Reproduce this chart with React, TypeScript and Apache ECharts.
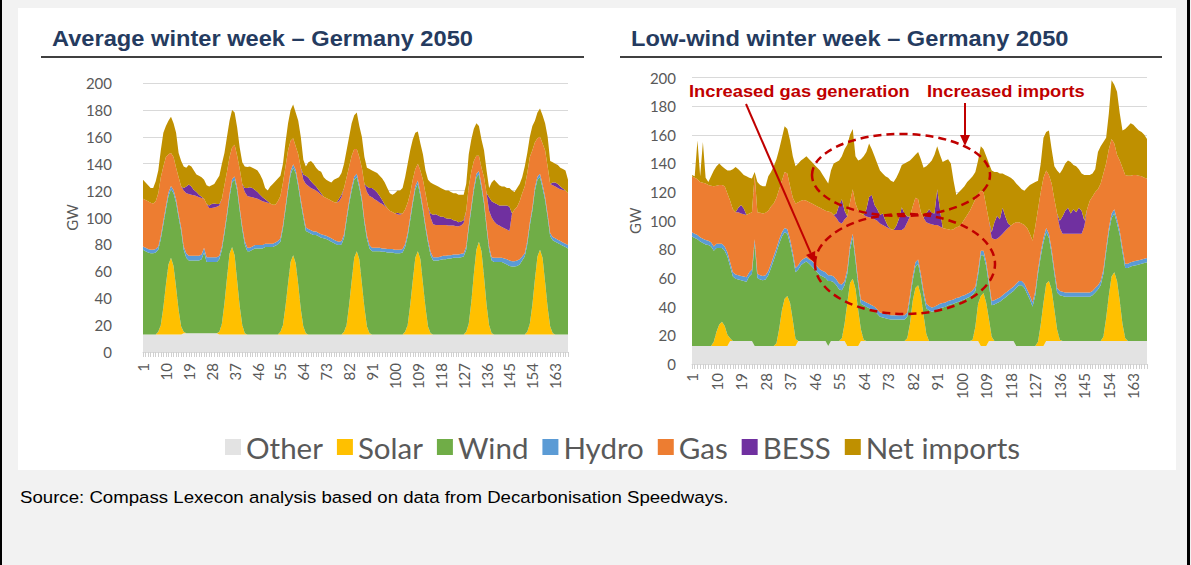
import React, { useEffect, useRef } from "react";
import * as echarts from "echarts";

// ---------- categories (hours of the week) ----------
const hours: string[] = Array.from({ length: 168 }, (_, i) => String(i + 1));
const seriesNames = ["Other", "Solar", "Wind", "Hydro", "Gas", "BESS", "Net imports"];
const seriesColors = ["#E3E3E3", "#FFC000", "#70AD47", "#5B9BD5", "#ED7D31", "#7030A0", "#BF9000"];
const yTicks = { min: 0, max: 200, interval: 20 };

// ---------- Average winter week (left) ----------
const avgOther = [
  13,13,13,13,13,13,13,13,13,13,13,13,13,13,13,13,14,14,14,14,14,14,14,14,
  14,14,14,14,14,14,13,13,13,13,13,13,13,13,13,13,13,13,13,13,13,13,13,13,
  13,13,13,13,13,13,13,13,13,13,13,13,13,13,13,13,13,13,13,13,13,13,13,13,
  13,13,13,13,13,13,13,13,13,13,13,13,13,13,13,13,13,13,13,13,13,13,13,13,
  13,13,13,13,13,13,13,13,13,13,13,13,13,13,13,13,13,13,13,13,13,13,13,13,
  13,13,13,13,13,13,13,13,13,13,13,13,13,13,13,13,13,13,13,13,13,13,13,13,
  13,13,13,13,13,13,13,13,13,13,13,13,13,13,13,13,13,13,13,13,13,13,13,13,
];
const avgSolar = [
  0,0,0,0,0,0,2,7,20,37,52,57,51,35,18,6,1,0,0,0,0,0,0,0,
  0,0,0,0,0,0,2,8,23,42,60,65,59,40,21,7,1,0,0,0,0,0,0,0,
  0,0,0,0,0,0,2,7,21,38,54,59,53,37,19,6,1,0,0,0,0,0,0,0,
  0,0,0,0,0,0,0,2,7,22,40,57,62,56,38,20,6,1,0,0,0,0,0,0,
  0,0,0,0,0,0,0,2,7,22,40,57,62,56,38,20,6,1,0,0,0,0,0,0,
  0,0,0,0,0,0,0,2,8,24,45,63,69,62,43,22,7,1,0,0,0,0,0,0,
  0,0,0,0,0,0,0,2,8,22,41,58,63,57,39,20,6,1,0,0,0,0,0,0,
];
const avgWind = [
  63,62,61,60.5,60.5,61,61,64,62,56,51,51,54,63,69,71,61,56,54,54,54,54,54,55,
  60,53,53,53,53,53,54,55,52,46,42,48,56,67,71,71,66,62,62,63,64,64,64,64,
  65,65,65,65,66,67,67,72,72,69,65,65,67,73,79,81,76,76,75,74,74,73,72,71.5,
  71,70,69,68,67,66.5,67,70,78,75,67,58,55,53,61,63,65,63,62,62,62,62,61.5,61.5,
  61,61,61,60.5,60.5,60.5,61,63,66,63,57,51,50,47,54,59,62,58,55,55,55,55.5,56,56,
  56.5,56.5,57,57,57,57.5,58,61,71,69,62,54,50,47,54,57,56,54,54,54,54,54,53,52,
  51,50.5,50.5,51,52,55,58,65,73,70,66,57,54,52,61,67,67,69,69,68,67,66,65,64,
];
const avgHydro = [
  2.5,2.5,2.5,2.5,2.5,2.5,2.5,2.5,2.5,2.5,2.5,2.5,2.5,2.5,2.5,2.5,2.5,3.5,3.5,3.5,3.5,3.5,3.5,3.5,
  3.5,3.5,3.5,3.5,3.5,3.5,2.5,2.5,2.5,2.5,2.5,2.5,2.5,2.5,2.5,2.5,2.5,2.5,2.5,2.5,2.5,2.5,2.5,2.5,
  2.5,2.5,2.5,2.5,2.5,2.5,2.5,2.5,2.5,2.5,2.5,2.5,2.5,2.5,2.5,2.5,2.5,2.5,2.5,2.5,2.5,2.5,2.5,2.5,
  2.5,2.5,2.5,2.5,2.5,2.5,2.5,2.5,2.5,2.5,2.5,2.5,2.5,2.5,2.5,2.5,2.5,2.5,2.5,2.5,2.5,2.5,2.5,2.5,
  2.5,2.5,2.5,2.5,2.5,2.5,2.5,2.5,2.5,2.5,2.5,2.5,2.5,2.5,2.5,2.5,2.5,2.5,2.5,2.5,2.5,2.5,2.5,2.5,
  2.5,2.5,2.5,2.5,2.5,2.5,2.5,2.5,2.5,2.5,2.5,2.5,2.5,2.5,2.5,2.5,2.5,2.5,3,3,3,3,3.5,4,
  4,4,4,4,4,3,2.5,2.5,2.5,2.5,2.5,2.5,2.5,2.5,2.5,2.5,2.5,2.5,2.5,2.5,2.5,2.5,2.5,2.5,
];
const avgGas = [
  35.5,35.5,35.5,35,34.5,35.5,39.5,43.5,40.5,36.5,28.5,24.5,24.5,23.5,27.5,30.5,41.5,44.5,46,45.5,45,44.5,43.5,42,
  36.5,39.5,36.5,36.5,37,37.5,37.5,35.5,33.5,30.5,27.5,23.5,23.5,23.5,28.5,31.5,36.5,38.5,38,36.5,35,34.5,33.5,32.5,
  31,30.5,30,29,28,29.5,31.5,31.5,29.5,27.5,22.5,19.5,17.5,21.5,23.5,25.5,32.5,32,31.5,31.5,30.5,30,29.5,28.5,
  28,28,28,28,28.5,30,32.5,34.5,29.5,25.5,23.5,20.5,18.5,20.5,22.5,26.5,32.5,36.5,37.5,36,35,33.5,33,31.5,
  30.5,28.5,27.5,27,26.5,26,26.5,25.5,22.5,17.5,15.5,12.5,12.5,16.5,20.5,23.5,24.5,25.5,24.5,24,24,23.5,23,23,
  22,22,21.5,21,21,21,22.5,26.5,28.5,25.5,19.5,13.5,11.5,12.5,17.5,23.5,26.5,29.5,27,25,24,23,22.5,22,
  22,35.5,38.5,40,43,47,49.5,50.5,48.5,42.5,33.5,28.5,27.5,30.5,34.5,35.5,36.5,38.5,38.5,38.5,38.5,39,39.5,38.5,
];
const avgBess = [
  0,0,0,0,0,0,0,0,0,0,0,0,0,0,0,0,2,5,7,6,4,3,2,1,
  0,0,2,3,3,2,1,0,0,0,0,0,0,0,0,0,3,6,7,7,6,5,4,3,
  2,1,0,0,0,0,0,0,0,0,0,0,0,0,0,4,6,6,5,4,3,2,1,0,
  0,0,0,0,0,2,2,0,0,0,0,0,0,0,0,0,4,6,7,7,6,5,3,1,
  0,0,0,0,1,1,0,0,0,0,0,0,0,0,0,0,0,3,7,8,7,6,6,5,
  5,5,4,4,3,3,2,0,0,0,0,0,0,0,0,0,10,12,14,15,15,16,17,18,
  18,0,0,0,0,0,0,0,0,0,0,0,0,0,0,0,0,2,3,3,2,1,0,0,
];
const avgNet = [
  14,13,12,11,11.5,15,17,20,25,23,25,27,25,26,18,19,16,14,14.5,15,14.5,13,14,14.5,
  14,14,14,14,14.5,18,21,26,24,26,27,28,24,21,16,16,16,15.5,15.5,15,15.5,16,15,13,
  8.5,8,12.5,15.5,17.5,17,15,14,18,20,23,25,25,25,23,11,7,11.5,15,15,14,14.5,16,14.5,
  13.5,13.5,13.5,16.5,18,16,16,18,20,22,24,25,27,23,23,20,14,14,13,13.5,14.5,15,16,16.5,
  15,13,13,15,16.5,17,19,24,29,32,30,27,24,20,19,17,20,23,23,21.5,21.5,21.5,20.5,20.5,
  21,20,20,20.5,20.5,20,19,20,24,24,24,24,22,21,20,17,7,14,17,16,15,14,14,13,
  14,17,13,14,13,12,15,15,15,18,16,19,21,21,20,22,17,15,14,14,14,14.5,15,10,
];

// ---------- Low-wind winter week (right) ----------
const lowOther = [
  12.5,12.5,12.5,12.5,12.5,12.5,12.5,12.5,12.5,12.5,12.5,12.5,12.5,12.5,16,16,16,16,16,16,16,16,16,12.5,
  12.5,12.5,12.5,12.5,12.5,12.5,12.5,12.5,12.5,12.5,12.5,12.5,12.5,12.5,12.5,16,16,16,16,16,16,16,16,16,
  16,16,12.5,16,16,16,16,16,16,12.5,12.5,12.5,12.5,12.5,16,16,16,16,16,16,16,16,16,16,
  16,16,16,16,16,16,16,16,16,16,16,16,16,16,16,16,16,16,16,16,16,16,16,16,
  16,16,16,16,16,16,16,16,16,16,12.5,12.5,12.5,16,16,16,16,16,16,16,16,16,16,12.5,
  12.5,12.5,12.5,12.5,12.5,12.5,12.5,12.5,12.5,12.5,16,16,16,16,16,16,16,16,16,16,16,16,16,16,
  16,16,16,16,16,16,16,16,16,16,16,16,16,16,16,16,16,16,16,16,16,16,16,16,
];
const lowSolar = [
  0,0,0,0,0,0,0,0,3,10,15,17,14,8,2,0,0,0,0,0,0,0,0,0,
  0,0,0,0,0,0,0,2,12,25,33,35,30,18,5,0,0,0,0,0,0,0,0,0,
  0,0,0,0,0,0,0,2,12,30,44,47,40,25,8,1,0,0,0,0,0,0,0,0,
  0,0,0,0,0,0,0,2,12,28,37,39,32,18,5,0,0,0,0,0,0,0,0,0,
  0,0,0,0,0,0,0,1,10,26,35,37,30,15,3,0,0,0,0,0,0,0,0,0,
  0,0,0,0,0,0,0,3,15,30,40,42,36,22,8,1,0,0,0,0,0,0,0,0,
  0,0,0,0,0,0,0,3,16,32,45,48,42,28,12,2,0,0,0,0,0,0,0,0,
];
const lowWind = [
  76.5,75.5,74.5,73,72,71,70.5,69.5,63.5,58.5,53.5,51.5,52.5,54.5,50,45,43.5,43,42.5,42,41.5,45,47,71.5,
  47.5,46.5,46,46.5,49.5,54.5,60,63.5,59.5,51.5,46.5,43.5,41.5,44.5,46.5,50,53,54.5,55.5,54,52,50,48,46,
  45,44,45.5,42,41,39,36,33.5,27,20.5,23.5,28.5,19.5,17.5,18,24,24,23,22,21,19,17,16.5,16,
  15.5,15,15,15,15,15,15,15,17,14,15,15,12,14,18,21.5,20.5,21,22,23,23.5,24,25,25.5,
  26,27,27.5,28.5,29,30,31,31.5,25,20,28.5,26.5,25.5,24,22,25.5,26.5,27.5,29,30.5,32,33.5,35,40.5,
  42.5,42.5,40.5,36.5,32.5,27.5,35.5,47.5,47.5,42.5,36,30,25,25,26,31,31.5,31,31,31,31,31,31,31,
  31,31,31,32,34,36,39,44,46,44,41,41,40,46,50,49,51,52,52.5,53,53.5,54,54.5,55,
];
const lowHydro = [
  3,3,3,3,3,3,3,3,3,3,3,3,3,3,3,3,3,3,3,3,3,3,3,3,
  3,3,3,3,3,3,3,3,3,3,3,3,3,3,3,3,3,3,3,3,4,4,4,4,
  4,4,4,4,4,4,4,4,3,3,3,3,3,3,3,3,3,3,3,3,3,3,3,3,
  3,3,3,3,3,3,3,3,3,3,3,3,3,3,3,3,3,3,3,3,3,3,3,3,
  3,3,3,3,3,3,3,3,3,3,3,3,3,3,3,3,3,3,3,3,3,3,3,3,
  3,3,3,3,3,3,3,3,3,3,3,3,3,3,3,3,3,3,3,3,3,3,3,3,
  3,3,3,3,3,3,3,3,3,3,3,3,3,3,3,3,3,3,3,3,3,3,3,3,
];
const lowGas = [
  39,39,39,38.5,39,39.5,39,39.5,42,40.5,41,41,42,41,43,44,43.5,44,43.5,43.5,43.5,41,40,45,
  43,43.5,43.5,43.5,42,40,36.5,35,35,36,39,39,37,38,45,44,42,41,39.5,40,40,41,42,43,
  43,43,44.5,44,43,43,43,42.5,43,37,30,31,37,49,60,60,60,60.5,61,61,62,62,61.5,61,
  60.5,60,59.5,59.5,59.5,59.5,61,63,55,49,45,42,43,51,57,57.5,58,57,56,54,52.5,51.5,50,49,
  49,49.5,49.5,50.5,53,55,57,59.5,61,54,42,41,39,42,44,42.5,42,42.5,43,43.5,44,44,44,43,
  41,40,41,43,43,43,45,42,42,42,40,41,46,49,52,44,40.5,41,41,41,41,41,41,41,
  46,58,64,66,67,67,68,67,59,55,52,46,45,49,56,62,61.5,60.5,60.5,60,59,58,56.5,55.5,
];
const lowBess = [
  0,0,0,0,0,0,0,0,0,0,0,0,0,0,0,0,0,3,6,4,0,0,0,0,
  0,0,0,0,0,0,0,0,0,0,0,0,0,0,0,0,0,0,0,0,0,0,0,0,
  0,0,0,0,0,3,12,17,6,0,0,0,0,0,0,0,5,14,16,10,8,6,8,4,
  1,0,0,3,8,16,10,4,0,0,0,0,0,0,6,10,8,8,25,12,0,0,0,0,
  0,0,0,0,0,0,0,0,0,0,0,0,0,0,4,12,16,12,18,10,3,0,0,0,
  0,0,0,0,0,0,0,0,0,0,0,0,0,0,0,5,12,16,18,14,17,15,18,16,
  4,0,0,0,0,0,0,0,0,0,0,0,0,0,0,0,0,0,0,0,0,0,0,0,
];
const lowNet = [
  1,1,27,4,28.5,4,2,6.5,11,13.5,15,13,12.5,16,21,28,31.5,27,23,23.5,27,25,23.5,2,
  21,19.5,19,18.5,24,24,26,27,28,30,32,31,32,29,26,27,28,29,31,30,29,28,27,26,
  24,22,19.5,29,36,36,31,30,43,50,47,42,33,35,38,41,40,37.5,32,34,32,31,28,31,
  34,34,33.5,33.5,32.5,29.5,35,38,39,34,30,33,37,35,33,32,36.5,41,30,38,46,47.5,49,46.5,
  34,22.5,24,24,23,23,22,20,19,23,31,30,35,40,43,35,30.5,32,24,29,33,33.5,30.5,27,
  25,24,24,28,34,40,31,20,20,28,27,31,24,23,30,33,33,33,33,36,31,32,27,26,
  32,24,18,16,16,26,26,22,18,25,41,41,44,33,26,32,34.5,36.5,35,33,31.5,31,30,27.5,
];

const avgData = [avgOther, avgSolar, avgWind, avgHydro, avgGas, avgBess, avgNet];
const lowData = [lowOther, lowSolar, lowWind, lowHydro, lowGas, lowBess, lowNet];

const AXIS_FONT = "Lato, 'Open Sans', sans-serif";
const AXIS_COLOR = "#595959";

function buildSeries(data: number[][], axisIndex: number, stack: string) {
  return data.map((values, i) => ({
    name: seriesNames[i],
    type: "line",
    stack,
    xAxisIndex: axisIndex,
    yAxisIndex: axisIndex,
    data: values,
    symbol: "none",
    showSymbol: false,
    smooth: false,
    lineStyle: { width: 0 },
    itemStyle: { color: seriesColors[i] },
    areaStyle: { color: seriesColors[i], opacity: 1 },
    emphasis: { disabled: true },
  }));
}

function xAxis(gridIndex: number, margin: number) {
  return {
    type: "category",
    gridIndex,
    data: hours,
    boundaryGap: false,
    axisLine: { show: true, lineStyle: { color: "#D9D9D9" } },
    axisTick: { show: true, interval: 0, length: 5, lineStyle: { color: "#D0D0D0" } },
    axisLabel: {
      interval: 8,
      rotate: 90,
      margin,
      color: AXIS_COLOR,
      fontFamily: AXIS_FONT,
      fontSize: 15,
    },
    splitLine: { show: false },
  };
}

function yAxis(gridIndex: number, margin: number, nameGap: number) {
  return {
    type: "value",
    gridIndex,
    min: yTicks.min,
    max: yTicks.max,
    interval: yTicks.interval,
    name: "GW",
    nameLocation: "middle",
    nameGap,
    nameTextStyle: { color: AXIS_COLOR, fontFamily: AXIS_FONT, fontSize: 15 },
    axisLine: { show: false },
    axisTick: { show: false },
    axisLabel: { margin, color: AXIS_COLOR, fontFamily: AXIS_FONT, fontSize: 15 },
    splitLine: { show: true, lineStyle: { color: "#D9D9D9", width: 1 } },
  };
}

const RED = "#C00000";
const TITLE_COLOR = "#253B5F";

const option: any = {
  animation: false,
  backgroundColor: "#F2F2F2",
  grid: [
    { left: 143, top: 83, width: 425, height: 269, containLabel: false },
    { left: 692, top: 77.5, width: 455, height: 286.5, containLabel: false },
  ],
  xAxis: [xAxis(0, 11), xAxis(1, 9)],
  yAxis: [yAxis(0, 31, 64), yAxis(1, 16, 50)],
  legend: {
    data: seriesNames,
    left: 220,
    top: 427,
    icon: "rect",
    itemWidth: 16,
    itemHeight: 16,
    itemGap: 14,
    textStyle: { color: AXIS_COLOR, fontFamily: AXIS_FONT, fontSize: 29.5 },
    selectedMode: false,
  },
  series: [...buildSeries(avgData, 0, "avg"), ...buildSeries(lowData, 1, "low")],
  graphic: [
    { type: "rect", z: -100, silent: true, shape: { x: 18, y: 8, width: 1158, height: 462 }, style: { fill: "#FFFFFF" } },
    { type: "rect", silent: true, shape: { x: 0, y: 0, width: 2, height: 565 }, style: { fill: "#000000" } },
    { type: "rect", silent: true, shape: { x: 1187, y: 0, width: 3, height: 565 }, style: { fill: "#000000" } },
    {
      type: "text", x: 52, y: 39, scaleX: 1.11,
      style: { text: "Average winter week – Germany 2050", x: 0, y: 0, font: "bold 21.3px 'Liberation Sans', Arial, sans-serif", fill: TITLE_COLOR, verticalAlign: "middle", textVerticalAlign: "middle" },
    },
    {
      type: "text", x: 631, y: 39, scaleX: 1.11,
      style: { text: "Low-wind winter week – Germany 2050", x: 0, y: 0, font: "bold 21.3px 'Liberation Sans', Arial, sans-serif", fill: TITLE_COLOR, verticalAlign: "middle", textVerticalAlign: "middle" },
    },
    { type: "line", silent: true, shape: { x1: 41, y1: 57, x2: 584, y2: 57 }, style: { stroke: "#404040", lineWidth: 2 } },
    { type: "line", silent: true, shape: { x1: 620, y1: 57, x2: 1162, y2: 57 }, style: { stroke: "#404040", lineWidth: 2 } },
    {
      type: "text", x: 689, y: 91, scaleX: 1.11, z: 100,
      style: { text: "Increased gas generation", x: 0, y: 0, font: "bold 16.5px 'Liberation Sans', Arial, sans-serif", fill: RED, verticalAlign: "middle", textVerticalAlign: "middle" },
    },
    {
      type: "text", x: 927, y: 91, scaleX: 1.11, z: 100,
      style: { text: "Increased imports", x: 0, y: 0, font: "bold 16.5px 'Liberation Sans', Arial, sans-serif", fill: RED, verticalAlign: "middle", textVerticalAlign: "middle" },
    },
    { type: "line", z: 100, silent: true, shape: { x1: 746, y1: 104, x2: 810.6, y2: 252.9 }, style: { stroke: RED, lineWidth: 2 } },
    { type: "polygon", z: 100, silent: true, shape: { points: [[806.0, 254.9], [815.2, 250.9], [815, 263]] }, style: { fill: RED } },
    { type: "line", z: 100, silent: true, shape: { x1: 965, y1: 103, x2: 965, y2: 137 }, style: { stroke: RED, lineWidth: 2 } },
    { type: "polygon", z: 100, silent: true, shape: { points: [[960, 135], [970, 135], [965, 146]] }, style: { fill: RED } },
    { type: "ellipse", z: 100, silent: true, shape: { cx: 901, cy: 175, rx: 89, ry: 41 }, style: { fill: "none", stroke: RED, lineWidth: 2.5, lineDash: [8, 5] } },
    { type: "ellipse", z: 100, silent: true, shape: { cx: 905, cy: 264, rx: 90, ry: 50 }, style: { fill: "none", stroke: RED, lineWidth: 2.5, lineDash: [8, 5] } },
    {
      type: "text", x: 20, y: 497, scaleX: 1.11,
      style: { text: "Source: Compass Lexecon analysis based on data from Decarbonisation Speedways.", x: 0, y: 0, font: "16.8px 'Liberation Sans', Arial, sans-serif", fill: "#000000", verticalAlign: "middle", textVerticalAlign: "middle" },
    },
  ],
};

export default function App() {
  const ref = useRef<HTMLDivElement>(null);
  useEffect(() => {
    document.body.style.margin = "0";
    if (!ref.current) return;
    const chart = echarts.init(ref.current, null, { renderer: "svg" });
    chart.setOption(option);
    return () => {
      chart.dispose();
    };
  }, []);
  return <div ref={ref} style={{ width: 1191, height: 565, background: "#F2F2F2" }} />;
}
